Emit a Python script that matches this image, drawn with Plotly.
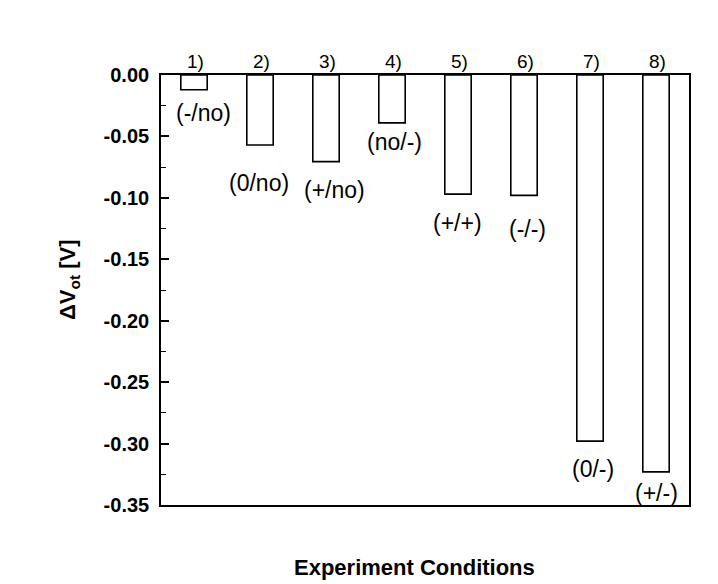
import plotly.graph_objects as go

# Data
experiments = [1, 2, 3, 4, 5, 6, 7, 8]
number_labels = ["1)", "2)", "3)", "4)", "5)", "6)", "7)", "8)"]
condition_labels = ["(-/no)", "(0/no)", "(+/no)", "(no/-)", "(+/+)", "(-/-)", "(0/-)", "(+/-)"]
delta_v = [-0.012, -0.057, -0.0705, -0.039, -0.097, -0.098, -0.298, -0.323]
y_ticks = [0.00, -0.05, -0.10, -0.15, -0.20, -0.25, -0.30, -0.35]

# layout-only label offsets (pixels)
label_dy = [-23, -38, -28, -19, -29, -34, -28, -21]
label_dx = [9, -1, 8, 2, -1, 3, 3, 0]

W, H = 718, 584
ml, mr, mt, mb = 161, 29, 75, 79
pw, ph = W - ml - mr, H - mt - mb

fig = go.Figure()
fig.add_trace(go.Bar(
    x=experiments, y=delta_v, width=0.4,
    marker=dict(color="white", line=dict(color="black", width=1.6)),
    showlegend=False,
))

annotations = []
for x, t in zip(experiments, number_labels):
    annotations.append(dict(x=x, y=0, xref="x", yref="y", text=t, showarrow=False,
                            yshift=14, xshift=1, xanchor="center", yanchor="middle",
                            font=dict(family="Liberation Sans", size=19, color="black")))
for x, v, t, dy, dx in zip(experiments, delta_v, condition_labels, label_dy, label_dx):
    annotations.append(dict(x=x, y=v, xref="x", yref="y", text=t, showarrow=False,
                            yshift=dy, xshift=dx, xanchor="center", yanchor="middle",
                            font=dict(family="Liberation Sans", size=23, color="black")))
annotations.append(dict(x=(414 - ml) / pw, y=1 - (567 - mt) / ph, xref="paper", yref="paper",
                        text="<b>Experiment Conditions</b>", xanchor="center", yanchor="middle",
                        showarrow=False, font=dict(family="Liberation Sans", size=22, color="black")))
annotations.append(dict(x=(69 - ml) / pw, y=1 - (280 - mt) / ph, xref="paper", yref="paper",
                        text="<b>ΔV<sub>ot</sub> [V]</b>", textangle=-90, xanchor="center", yanchor="middle",
                        showarrow=False, font=dict(family="Liberation Sans", size=22, color="black")))

fig.update_layout(
    width=W, height=H,
    margin=dict(l=ml, r=mr, t=mt, b=mb),
    paper_bgcolor="white", plot_bgcolor="white",
    annotations=annotations,
    xaxis=dict(range=[0.5, 8.5], showticklabels=False, ticks="", showgrid=False, zeroline=False,
               showline=True, mirror=True, linecolor="black", linewidth=1.6),
    yaxis=dict(range=[-0.35, 0], tickvals=y_ticks, ticktext=[f"{v:.2f}" for v in y_ticks],
               ticks="inside", ticklen=8, tickwidth=1.6, tickcolor="black",
               minor=dict(ticks="inside", ticklen=5, tickwidth=1.2, tickcolor="black", dtick=0.025,
                          tick0=0, showgrid=False),
               showgrid=False, zeroline=False, showline=True, mirror=True,
               linecolor="black", linewidth=1.6, ticklabelstandoff=6,
               tickfont=dict(family="Liberation Sans", size=20, color="black", weight="bold")),
)

fig.write_html("out.html")
